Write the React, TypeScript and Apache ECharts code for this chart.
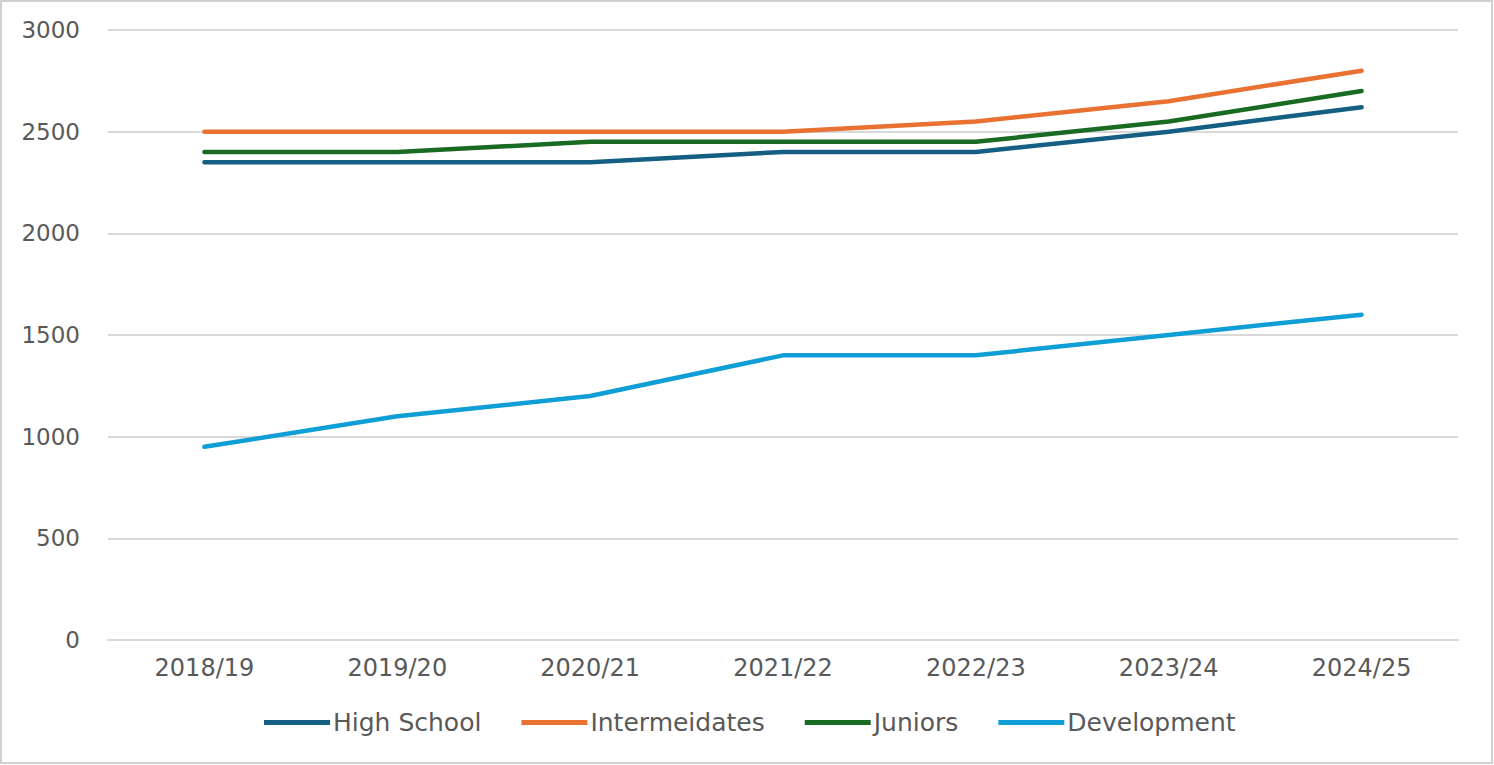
import React, { useEffect, useRef } from "react";
import * as echarts from "echarts";

const categories = ["2018/19", "2019/20", "2020/21", "2021/22", "2022/23", "2023/24", "2024/25"];
const highSchool = [2350, 2350, 2350, 2400, 2400, 2500, 2620];
const intermediates = [2500, 2500, 2500, 2500, 2550, 2650, 2800];
const juniors = [2400, 2400, 2450, 2450, 2450, 2550, 2700];
const development = [950, 1100, 1200, 1400, 1400, 1500, 1600];
const seriesNames = ["High School", "Intermeidates", "Juniors", "Development"];
const colors = ["#156082", "#E97132", "#196B24", "#0F9ED5"];

export default function App() {
  const ref = useRef<HTMLDivElement>(null);
  useEffect(() => {
    if (!ref.current) return;
    const chart = echarts.init(ref.current, null, { renderer: "svg" });
    const data = [highSchool, intermediates, juniors, development];
    chart.setOption({
      animation: false,
      backgroundColor: "#ffffff",
      graphic: [
        {
          type: "rect",
          shape: { x: 1, y: 1, width: 1491, height: 762 },
          style: { fill: "none", stroke: "#d0d0d0", lineWidth: 2 },
          silent: true,
        },
      ],
      grid: { left: 108, right: 36, top: 30, bottom: 125 },
      legend: {
        top: 710,
        left: 264,
        padding: 0,
        icon: "rect",
        itemWidth: 66,
        itemHeight: 5,
        itemGap: 40,
        textStyle: {
          fontFamily: "'DejaVu Sans', Verdana, sans-serif",
          fontSize: 25,
          color: "#595959",
          padding: [0, 0, 0, -2],
        },
        data: seriesNames,
      },
      xAxis: {
        type: "category",
        data: categories,
        boundaryGap: true,
        axisLine: { show: true, lineStyle: { color: "#d9d9d9", width: 2 } },
        axisTick: { show: false },
        axisLabel: {
          color: "#595959",
          fontSize: 24,
          fontFamily: "'DejaVu Sans', Verdana, sans-serif",
          margin: 16,
        },
      },
      yAxis: {
        type: "value",
        min: 0,
        max: 3000,
        interval: 500,
        axisLine: { show: false },
        axisTick: { show: false },
        splitLine: { lineStyle: { color: "#d9d9d9", width: 2 } },
        axisLabel: {
          color: "#595959",
          fontSize: 23,
          fontFamily: "'DejaVu Sans', Verdana, sans-serif",
          margin: 28,
          formatter: (v: number) => String(v),
        },
      },
      series: seriesNames.map((name, i) => ({
        name,
        type: "line",
        data: data[i],
        symbol: "none",
        showSymbol: false,
        lineStyle: { color: colors[i], width: 4.5, cap: "round", join: "round" },
        itemStyle: { color: colors[i] },
      })),
    });
    return () => chart.dispose();
  }, []);
  return (
    <div
      ref={ref}
      style={{ position: "absolute", left: 0, top: 0, width: 1494, height: 765 }}
    />
  );
}
